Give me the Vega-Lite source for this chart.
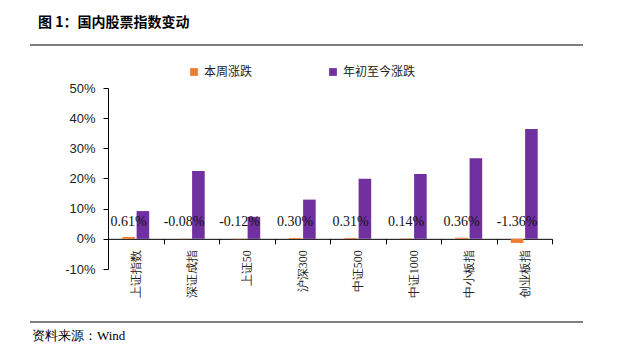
{
  "$schema": "https://vega.github.io/schema/vega-lite/v6.json",
  "autosize": "none",
  "width": 444,
  "height": 181,
  "padding": {"left": 108, "top": 88, "right": 78, "bottom": 86},
  "background": "white",
  "config": {"view": {"stroke": null}},
  "datasets": {
    "bars": [
      {"index": "上证指数", "series": "本周涨跌", "value": 0.0061, "label": "0.61%"},
      {"index": "上证指数", "series": "年初至今涨跌", "value": 0.092},
      {"index": "深证成指", "series": "本周涨跌", "value": -0.0008, "label": "-0.08%"},
      {"index": "深证成指", "series": "年初至今涨跌", "value": 0.225},
      {"index": "上证50", "series": "本周涨跌", "value": -0.0012, "label": "-0.12%"},
      {"index": "上证50", "series": "年初至今涨跌", "value": 0.073},
      {"index": "沪深300", "series": "本周涨跌", "value": 0.0030, "label": "0.30%"},
      {"index": "沪深300", "series": "年初至今涨跌", "value": 0.130},
      {"index": "中证500", "series": "本周涨跌", "value": 0.0031, "label": "0.31%"},
      {"index": "中证500", "series": "年初至今涨跌", "value": 0.199},
      {"index": "中证1000", "series": "本周涨跌", "value": 0.0014, "label": "0.14%"},
      {"index": "中证1000", "series": "年初至今涨跌", "value": 0.215},
      {"index": "中小板指", "series": "本周涨跌", "value": 0.0036, "label": "0.36%"},
      {"index": "中小板指", "series": "年初至今涨跌", "value": 0.267},
      {"index": "创业板指", "series": "本周涨跌", "value": -0.0136, "label": "-1.36%"},
      {"index": "创业板指", "series": "年初至今涨跌", "value": 0.364}
    ],
    "deco": [{"title": "图 1：国内股票指数变动", "source": "资料来源：Wind"}]
  },
  "layer": [
    {
      "data": {"name": "bars"},
      "mark": {"type": "bar"},
      "encoding": {
        "x": {
          "field": "index", "type": "nominal", "sort": null,
          "scale": {"paddingInner": 0, "paddingOuter": 0},
          "axis": {
            "title": null, "offset": -30.17, "labelAngle": -90,
            "tickBand": "extent", "tickSize": 5, "tickColor": "#000", "domainColor": "#000",
            "labelFont": "Liberation Serif", "labelFontSize": 12, "labelColor": "#222",
            "labelPadding": 6
          }
        },
        "xOffset": {
          "field": "series", "type": "nominal",
          "scale": {"domain": ["本周涨跌", "年初至今涨跌"], "paddingInner": 0.12, "paddingOuter": 1.05}
        },
        "y": {
          "field": "value", "type": "quantitative",
          "scale": {"domain": [-0.1, 0.5], "nice": false},
          "axis": {
            "title": null, "format": ".0%", "tickCount": 7,
            "labelExpr": "replace(datum.label, '−', '-')",
            "labelOverlap": false, "labelSeparation": 0, "labelBound": false,
            "grid": false, "domainColor": "#000", "tickColor": "#000", "tickSize": 5,
            "labelFont": "Liberation Sans", "labelFontSize": 13, "labelColor": "#222",
            "labelPadding": 8
          }
        },
        "color": {
          "field": "series", "type": "nominal",
          "scale": {"domain": ["本周涨跌", "年初至今涨跌"], "range": ["#ED7D31", "#7030A0"]},
          "legend": {
            "title": null, "orient": "none", "legendX": 80, "legendY": -22,
            "direction": "horizontal", "symbolType": "square", "symbolSize": 60,
            "labelFont": "Noto Sans CJK SC", "labelFontSize": 12, "labelColor": "#222",
            "columnPadding": 74, "symbolStrokeWidth": 0
          }
        }
      }
    },
    {
      "data": {"name": "bars"},
      "transform": [{"filter": "datum.series === '本周涨跌'"}],
      "mark": {"type": "text", "font": "Liberation Serif", "fontSize": 14, "color": "#111", "baseline": "middle", "dy": -17},
      "encoding": {
        "x": {"field": "index", "type": "nominal", "sort": null},
        "xOffset": {"field": "series", "type": "nominal", "scale": {"domain": ["本周涨跌", "年初至今涨跌"]}},
        "y": {"datum": 0},
        "text": {"field": "label"}
      }
    },
    {
      "data": {"name": "deco"},
      "mark": {"type": "text", "font": "Noto Sans CJK SC", "fontWeight": "bold", "fontSize": 14, "align": "left", "baseline": "alphabetic", "color": "#000"},
      "encoding": {"x": {"value": -70}, "y": {"value": -61}, "text": {"field": "title"}}
    },
    {
      "data": {"name": "deco"},
      "mark": {"type": "rule", "color": "#000", "strokeWidth": 1},
      "encoding": {"x": {"value": -78}, "x2": {"value": 475}, "y": {"value": -43}}
    },
    {
      "data": {"name": "deco"},
      "mark": {"type": "rule", "color": "#000", "strokeWidth": 1},
      "encoding": {"x": {"value": -78}, "x2": {"value": 475}, "y": {"value": 234}}
    },
    {
      "data": {"name": "deco"},
      "mark": {"type": "text", "font": "Liberation Serif", "fontSize": 13, "align": "left", "baseline": "alphabetic", "color": "#000"},
      "encoding": {"x": {"value": -76}, "y": {"value": 252}, "text": {"field": "source"}}
    }
  ]
}
